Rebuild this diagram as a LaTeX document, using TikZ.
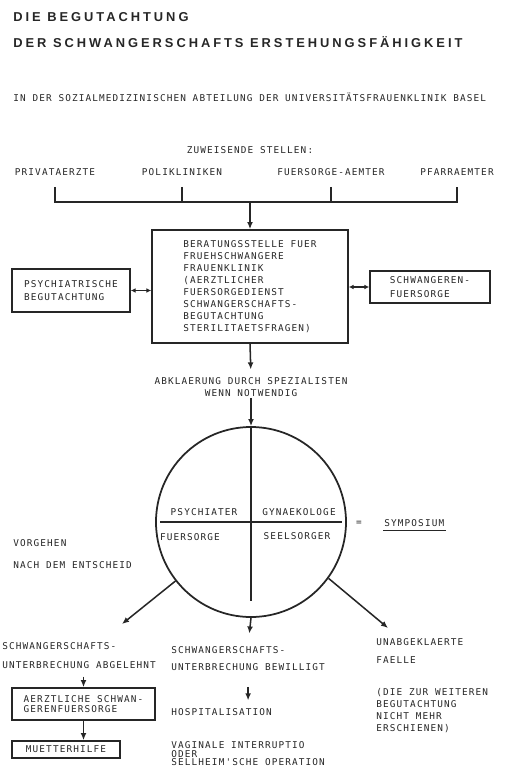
\documentclass[tikz,border=0pt]{standalone}
\usepackage{fontspec}
\usepackage{tikz}
\usetikzlibrary{arrows.meta}
\newfontfamily\titelfont[LetterSpace=23]{Liberation Sans}
\newfontfamily\schreib[LetterSpace=12]{DejaVu Sans Mono}

\tikzset{
  titel/.style={font=\titelfont\bfseries\fontsize{11}{13}\selectfont, anchor=west, inner sep=1pt},
  schrift/.style={font=\schreib\fontsize{8}{#1}\selectfont, inner sep=1pt, align=left},
  schrift/.default=10.2,
  kasten/.style={draw, line width=1.4pt, schrift=#1, inner sep=2pt},
  kasten/.default=10.2,
  pfeil/.style={-{Latex[length=6pt,width=5pt]}, line width=1.3pt},
  linie/.style={line width=1.3pt}
}

\begin{document}
\begin{tikzpicture}[x=0.03cm,y=-0.03cm,color=black!85]
        \useasboundingbox (0,0) rectangle (517,774);
        \node[titel] (titel1) at (12,17) {DIE BEGUTACHTUNG};
        \node[titel] (titel2) at (12,42) {DER SCHWANGERSCHAFTS ERSTEHUNGSFÄHIGKEIT};
        \node[schrift,anchor=west] (abteilung) at (12,97) {IN DER SOZIALMEDIZINISCHEN ABTEILUNG DER UNIVERSITÄTSFRAUENKLINIK BASEL};
        \node[schrift] (zuweisend) at (250,150) {ZUWEISENDE STELLEN:};
        \node[schrift] (privat) at (55,172) {PRIVATAERZTE};
        \node[schrift] (poli) at (182,172) {POLIKLINIKEN};
        \node[schrift] (fuersorgeamt) at (331,172) {FUERSORGE-AEMTER};
        \node[schrift] (pfarr) at (457,172) {PFARRAEMTER};
        \coordinate (bus) at (250,202);
        \draw[linie,shorten <=0.3cm,shorten >=0.3cm] (privat.south) -- (privat.south |- bus) -- (pfarr.south |- bus) -- (pfarr.south);
        \draw[linie,shorten <=0.3cm] (poli.south) -- (poli.south |- bus);
        \draw[linie,shorten <=0.3cm] (fuersorgeamt.south) -- (fuersorgeamt.south |- bus);

        \node[kasten, minimum width=5.88cm, minimum height=3.39cm] (beratung) at (250,286.5) {BERATUNGSSTELLE FUER\\FRUEHSCHWANGERE\\FRAUENKLINIK\\(AERZTLICHER\\FUERSORGEDIENST\\SCHWANGERSCHAFTS-\\BEGUTACHTUNG\\STERILITAETSFRAGEN)};
        \node[kasten=11.1, minimum width=3.54cm, minimum height=1.29cm] (psychiatrisch) at (71,290.5) {PSYCHIATRISCHE\\BEGUTACHTUNG};
        \node[kasten=12, minimum width=3.6cm, minimum height=0.96cm] (schwfuers) at (430,287) {SCHWANGEREN-\\FUERSORGE};
        \draw[pfeil] (bus) -- (beratung.north);
        \draw[{Latex[length=4pt,width=4pt]}-{Latex[length=4pt,width=4pt]},linie] (psychiatrisch.east) -- (psychiatrisch.east -| beratung.west);
        \draw[{Latex[length=4pt,width=4pt]}-{Latex[length=4pt,width=4pt]},linie] (beratung.east |- schwfuers.west) -- (schwfuers.west);

        \node[schrift,align=center] (abklaerung) at (251,387) {ABKLAERUNG DURCH SPEZIALISTEN\\WENN NOTWENDIG};
        \draw[pfeil,shorten >=0.2cm] (beratung.south) -- (abklaerung.north);
        \node[draw,circle,line width=1.5pt,minimum size=5.7cm,inner sep=0pt] (kreis) at (251,522) {};
        \draw[pfeil] (abklaerung.south) -- (kreis.north);
        \draw[linie,shorten <=0.15cm,shorten >=0.15cm] (kreis.west) -- (kreis.east);
        \draw[linie,shorten >=0.5cm] (kreis.north) -- (kreis.south);
        \node[schrift] (psychiater) at (204,512) {PSYCHIATER};
        \node[schrift] (gynaekologe) at (299,512) {GYNAEKOLOGE};
        \node[schrift] (fuersorge) at (190,537) {FUERSORGE};
        \node[schrift] (seelsorger) at (297,536) {SEELSORGER};
        \node[schrift] (gleich) at (359,523) {=};
        \node[schrift,anchor=west] (symposium) at (383,523) {SYMPOSIUM};
        \draw[line width=0.9pt] ([yshift=-2pt]symposium.south west) -- ([yshift=-2pt]symposium.south east);
        \node[schrift=18.8,anchor=west] (vorgehen) at (12,554) {VORGEHEN\\NACH DEM ENTSCHEID};

        \coordinate (links) at (122,624);
        \coordinate (rechts) at (388,628);
        \draw[pfeil] (kreis.218) -- (links);
        \draw[pfeil] (kreis.324) -- (rechts);

        \node[schrift=16.2,anchor=west] (abgelehnt) at (1,655.5) {SCHWANGERSCHAFTS-\\UNTERBRECHUNG ABGELEHNT};
        \node[kasten=8.5, minimum width=4.29cm, minimum height=0.96cm] (aerztlich) at (83.5,704) {AERZTLICHE SCHWAN-\\GERENFUERSORGE};
        \node[kasten, minimum width=3.24cm, minimum height=0.51cm] (muetterhilfe) at (66,749.5) {MUETTERHILFE};
        \draw[pfeil,shorten <=0.2cm] (abgelehnt.south -| aerztlich.north) -- (aerztlich.north);
        \draw[pfeil] (aerztlich.south) -- (aerztlich.south |- muetterhilfe.north);

        \node[schrift=14.5,anchor=west] (bewilligt) at (170,658.5) {SCHWANGERSCHAFTS-\\UNTERBRECHUNG BEWILLIGT};
        \draw[pfeil,shorten >=0.35cm] (kreis.south) -- (bewilligt.north);
        \node[schrift,anchor=west] (hospital) at (170,712) {HOSPITALISATION};
        \draw[pfeil,shorten <=0.45cm,shorten >=0.2cm] (bewilligt.south) -- (bewilligt.south |- hospital.north);
        \node[schrift,anchor=west] (vaginal) at (170,745) {VAGINALE INTERRUPTIO};
        \node[schrift,anchor=west] (oder) at (170,754) {ODER};
        \node[schrift,anchor=west] (sellheim) at (170,762) {SELLHEIM'SCHE OPERATION};

        \node[schrift=15.4,anchor=west] (unabgeklaert) at (375,651) {UNABGEKLAERTE\\FAELLE};
        \node[schrift=10,anchor=west] (erschienen) at (375,710.5) {(DIE ZUR WEITEREN\\BEGUTACHTUNG\\NICHT MEHR\\ERSCHIENEN)};
    \end{tikzpicture}
\end{document}
